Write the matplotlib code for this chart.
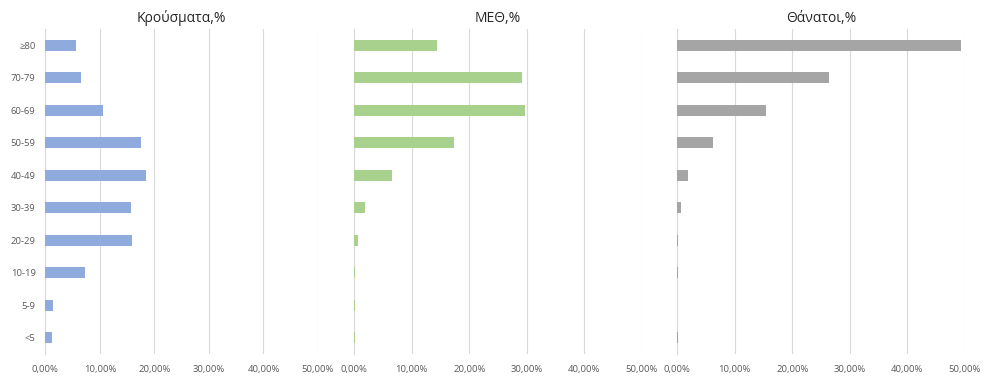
import matplotlib
matplotlib.use("Agg")
import matplotlib.pyplot as plt
from matplotlib.ticker import FuncFormatter, MultipleLocator

plt.rcParams['font.family'] = ['Open Sans', 'DejaVu Sans']

# age groups, top to bottom as in the chart
ages = ['≥80', '70-79', '60-69', '50-59', '40-49', '30-39', '20-29', '10-19', '5-9', '<5']

cases = [5.7, 6.6, 10.5, 17.5, 18.5, 15.7, 15.9, 7.3, 1.5, 1.2]
icu = [14.4, 29.2, 29.7, 17.3, 6.5, 1.9, 0.6, 0.1, 0.1, 0.1]
deaths = [49.3, 26.4, 15.4, 6.3, 1.9, 0.7, 0.2, 0.1, 0.0, 0.1]

titles = ['Κρούσματα,%', 'ΜΕΘ,%', 'Θάνατοι,%']
colors = ['#8FAADC', '#A9D18E', '#A5A5A5']
series = [cases, icu, deaths]

lefts = [0.0459, 0.3593, 0.6869]
widths = [0.2766, 0.2915, 0.2915]

fig = plt.figure(figsize=(9.86, 3.82), dpi=100)

def pct(x, pos):
    return ('%.2f%%' % (x * 100)).replace('.', ',')

for i in range(3):
    ax = fig.add_axes([lefts[i], 0.0733, widths[i], 0.8508])
    vals = [v / 100.0 for v in series[i]]
    ypos = list(range(len(ages)))[::-1]
    ax.barh(ypos, vals, height=0.34, color=colors[i], zorder=3)
    ax.set_xlim(0, 0.5)
    ax.set_ylim(-0.5, len(ages) - 0.5)
    ax.xaxis.set_major_locator(MultipleLocator(0.1))
    ax.xaxis.set_major_formatter(FuncFormatter(pct))
    ax.grid(axis='x', color='#D9D9D9', linewidth=0.8, zorder=0)
    for s in ['top', 'right', 'bottom']:
        ax.spines[s].set_visible(False)
    ax.spines['left'].set_color('#D9D9D9')
    ax.spines['left'].set_linewidth(0.8)
    ax.tick_params(axis='both', length=0, labelsize=6.8, labelcolor='#595959')
    ax.tick_params(axis='x', pad=8)
    if i == 0:
        ax.set_yticks(ypos)
        ax.set_yticklabels(ages)
        ax.tick_params(axis='y', pad=7)
    else:
        ax.set_yticks([])
    ax.set_title(titles[i], fontsize=10, color='#262626', pad=5)

fig.savefig('out.png', dpi=100)
